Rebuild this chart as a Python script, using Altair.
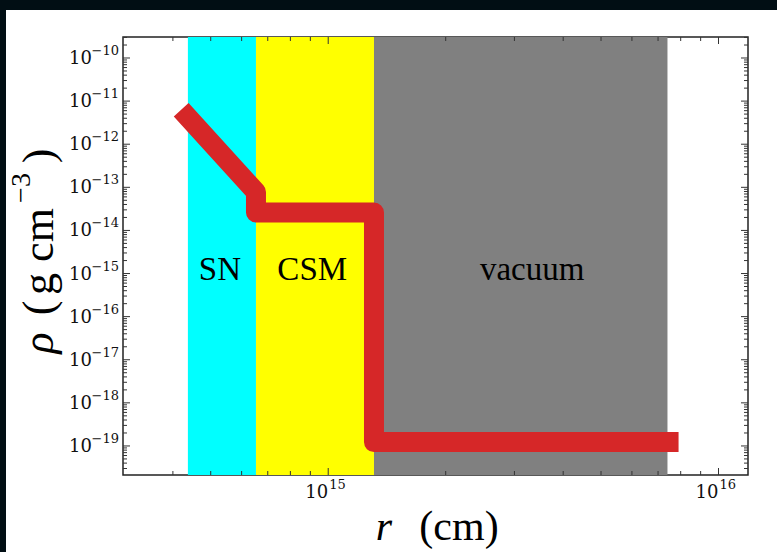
import altair as alt
import pandas as pd

# Density profile: radius r (cm) against density rho (g cm^-3)
r_profile = [4.2e14, 6.53e14, 6.53e14, 1.31e15, 1.31e15, 7.9e15]
rho_profile = [6.3e-12, 7.8e-14, 2.6e-14, 2.6e-14, 1.23e-19, 1.23e-19]

# Shaded regions
region_names = ["SN", "CSM", "vacuum"]
region_start = [4.37e14, 6.53e14, 1.31e15]
region_end = [6.53e14, 1.31e15, 7.4e15]
region_colors = ["#00ffff", "#ffff00", "#808080"]
label_r = [5.28e14, 9.1e14, 3.33e15]
label_rho = [1.2e-15, 1.2e-15, 1.2e-15]

# Axis ranges and ticks
x_domain = [2.98e14, 1.19e16]
y_domain = [2.12e-20, 3.07e-10]
x_major = [1e15, 1e16]
x_exponents = ["15", "16"]
x_minor = [4e14, 5e14, 6e14, 7e14, 8e14, 9e14,
           2e15, 3e15, 4e15, 5e15, 6e15, 7e15, 8e15, 9e15]
y_major = [1e-10, 1e-11, 1e-12, 1e-13, 1e-14, 1e-15, 1e-16, 1e-17, 1e-18, 1e-19]
y_exponents = ["−10", "−11", "−12", "−13", "−14", "−15", "−16", "−17", "−18", "−19"]
y_minor = [m * 10.0 ** k for k in range(-20, -9) for m in range(2, 10)
           if y_domain[0] <= m * 10.0 ** k <= y_domain[1]]

W, H = 625, 438
SERIF = "Liberation Serif"
TICK_FONT = "DejaVu Serif"
EDGE = "#010e14"
INK = "#111111"

xs = alt.Scale(type="log", domain=x_domain, nice=False)
ys = alt.Scale(type="log", domain=y_domain, nice=False)

one = pd.DataFrame({"k": [0]})

# Dark edge along the top and left of the page
edge_top = alt.Chart(one).mark_rect(color=EDGE).encode(
    x=alt.value(-123), x2=alt.value(654), y=alt.value(-37), y2=alt.value(-27)
)
edge_left = alt.Chart(one).mark_rect(color=EDGE).encode(
    x=alt.value(-123), x2=alt.value(-117), y=alt.value(-37), y2=alt.value(515)
)

regions_df = pd.DataFrame({"name": region_names, "r0": region_start,
                           "r1": region_end, "color": region_colors})
bands = alt.Chart(regions_df).mark_rect().encode(
    x=alt.X("r0:Q", scale=xs, axis=None),
    x2="r1:Q",
    y=alt.value(0),
    y2=alt.value(H),
    color=alt.Color("color:N", scale=None),
)

profile_df = pd.DataFrame({"r": r_profile, "rho": rho_profile,
                           "i": list(range(len(r_profile)))})
profile = alt.Chart(profile_df).mark_line(
    color="#d62728", strokeWidth=20, strokeCap="butt", strokeJoin="round"
).encode(
    x=alt.X("r:Q", scale=xs, axis=None),
    y=alt.Y("rho:Q", scale=ys, axis=None),
    order="i:O",
)

labels_df = pd.DataFrame({"name": region_names, "r": label_r, "rho": label_rho})
region_labels = alt.Chart(labels_df).mark_text(
    font=SERIF, fontSize=33, color="black", baseline="middle", align="center"
).encode(
    x=alt.X("r:Q", scale=xs, axis=None),
    y=alt.Y("rho:Q", scale=ys, axis=None),
    text="name:N",
)


def tick_layer(values, horizontal, length, far):
    """Inward ticks on one side of the frame."""
    df = pd.DataFrame({"v": values})
    base = alt.Chart(df).mark_rule(color="#333", strokeWidth=1)
    if horizontal:
        return base.encode(x=alt.value(W - length if far else 0),
                           x2=alt.value(W if far else length),
                           y=alt.Y("v:Q", scale=ys, axis=None))
    return base.encode(x=alt.X("v:Q", scale=xs, axis=None),
                       y=alt.value(H - length if far else 0),
                       y2=alt.value(H if far else length))


ticks = [
    tick_layer(x_major, False, 7, True), tick_layer(x_major, False, 7, False),
    tick_layer(x_minor, False, 4, True), tick_layer(x_minor, False, 4, False),
    tick_layer(y_major, True, 7, False), tick_layer(y_major, True, 7, True),
    tick_layer(y_minor, True, 4, False), tick_layer(y_minor, True, 4, True),
]

# Tick labels: base "10" plus a raised exponent
x_lab_df = pd.DataFrame({"v": x_major, "base": ["10"] * len(x_major), "exp": x_exponents})
x_lab_base = alt.Chart(x_lab_df).mark_text(
    font=TICK_FONT, fontSize=18, color=INK, align="right", baseline="middle"
).encode(x=alt.X("v:Q", scale=xs, axis=None), y=alt.value(H + 18), text="base:N")
x_lab_exp = alt.Chart(x_lab_df).mark_text(
    font=TICK_FONT, fontSize=13, color=INK, align="left", baseline="middle", dx=1
).encode(x=alt.X("v:Q", scale=xs, axis=None), y=alt.value(H + 10), text="exp:N")

y_lab_df = pd.DataFrame({"v": y_major, "base": ["10"] * len(y_major), "exp": y_exponents})
y_lab_base = alt.Chart(y_lab_df).mark_text(
    font=TICK_FONT, fontSize=18, color=INK, align="right", baseline="middle", dy=1
).encode(x=alt.value(-31), y=alt.Y("v:Q", scale=ys, axis=None), text="base:N")
y_lab_exp = alt.Chart(y_lab_df).mark_text(
    font=TICK_FONT, fontSize=13, color=INK, align="right", baseline="middle", dy=-7
).encode(x=alt.value(-4), y=alt.Y("v:Q", scale=ys, axis=None), text="exp:N")


def title_piece(text, x, y, size=40, italic=False, angle=0):
    kw = dict(font=SERIF, fontSize=size, baseline="middle", align="center", color="black")
    if italic:
        kw["fontStyle"] = "italic"
    if angle:
        kw["angle"] = angle
    return alt.Chart(pd.DataFrame({"t": [text]})).mark_text(**kw).encode(
        x=alt.value(x), y=alt.value(y), text="t:N")


# Axis titles: r (cm) and rho (g cm^-3)
TX = -83
titles = [
    title_piece("r", 261, 490, size=42, italic=True),
    title_piece("(cm)", 336, 490, size=42),
    title_piece("ρ", TX, 306, size=44, italic=True, angle=270),
    title_piece("(", TX, 271, size=44, angle=270),
    title_piece("g", TX, 247, size=44, angle=270),
    title_piece("cm", TX, 198, size=44, angle=270),
    title_piece("−3", TX - 18, 151, size=28, angle=270),
    title_piece(")", TX, 119, size=44, angle=270),
]

chart = alt.layer(
    edge_top, edge_left, bands, profile, region_labels, *ticks,
    x_lab_base, x_lab_exp, y_lab_base, y_lab_exp, *titles,
).properties(
    width=W, height=H,
    background="white",
    padding={"left": 123, "top": 37, "right": 29, "bottom": 77},
    autosize=alt.AutoSizeParams(type="none"),
).configure_view(
    fill="white", stroke="#222", strokeWidth=1.5
)

chart.save("out.html", embed_options={"renderer": "svg", "actions": False})
